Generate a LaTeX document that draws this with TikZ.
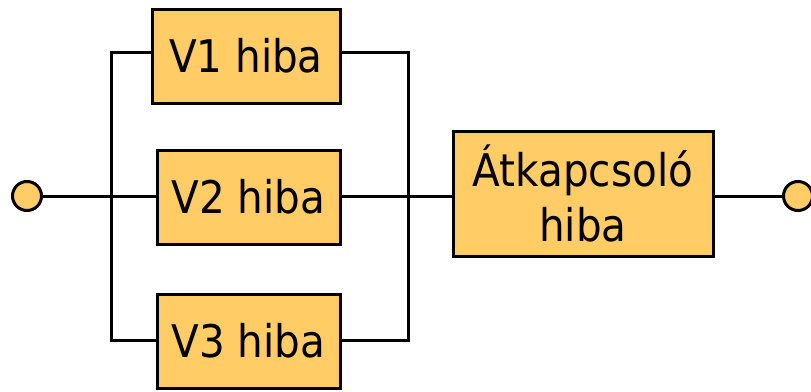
\documentclass[tikz,border=0pt]{standalone}
\usepackage{fontspec}
\setmainfont{DejaVu Sans Condensed}
\usetikzlibrary{shapes.geometric}

\definecolor{hibasarga}{RGB}{255,204,102}
\tikzset{
    hibadoboz/.style={draw=black, line width=3pt, fill=hibasarga, inner sep=0pt,
        font=\fontsize{45}{55}\selectfont, align=center},
    kapocs/.style={ellipse, draw=black, line width=3pt, fill=hibasarga, inner sep=0pt,
        minimum width=29pt, minimum height=29pt},
    vezetek/.style={line width=3pt, line join=miter}
}

\begin{document}
\begin{tikzpicture}[x=1pt, y=-1pt]
                \useasboundingbox (0,0) rectangle (811,391);
                \node[hibadoboz, minimum width=188pt, minimum height=94pt] (v1) at (246,56) {V1 hiba};
                \node[hibadoboz, minimum width=183pt, minimum height=94pt] (v2) at (248.5,197) {V2 hiba};
                \node[hibadoboz, minimum width=183pt, minimum height=94pt] (v3) at (248.5,341) {V3 hiba};
                \node[hibadoboz, minimum width=260pt, minimum height=125pt] (atk) at (583,193.5) {Átkapcsoló\\hiba};
                \node[kapocs] (be) at (27,196) {};
                \node[kapocs] (ki) at (798,196) {};
                \coordinate (bf) at (111,52);
                \coordinate (ba) at (111,340);
                \coordinate (jf) at (408,52);
                \coordinate (ja) at (408,340);
                \draw[vezetek] (bf -| v1.west) -- (bf) -- (ba) -- (ba -| v3.west);
                \draw[vezetek] (jf -| v1.east) -- (jf) -- (ja) -- (ja -| v3.east);
                \draw[vezetek] (be) -- (be -| v2.west);
                \draw[vezetek] (be -| v2.east) -- (be -| atk.west);
                \draw[vezetek] (be -| atk.east) -- (ki);
\end{tikzpicture}
\end{document}
